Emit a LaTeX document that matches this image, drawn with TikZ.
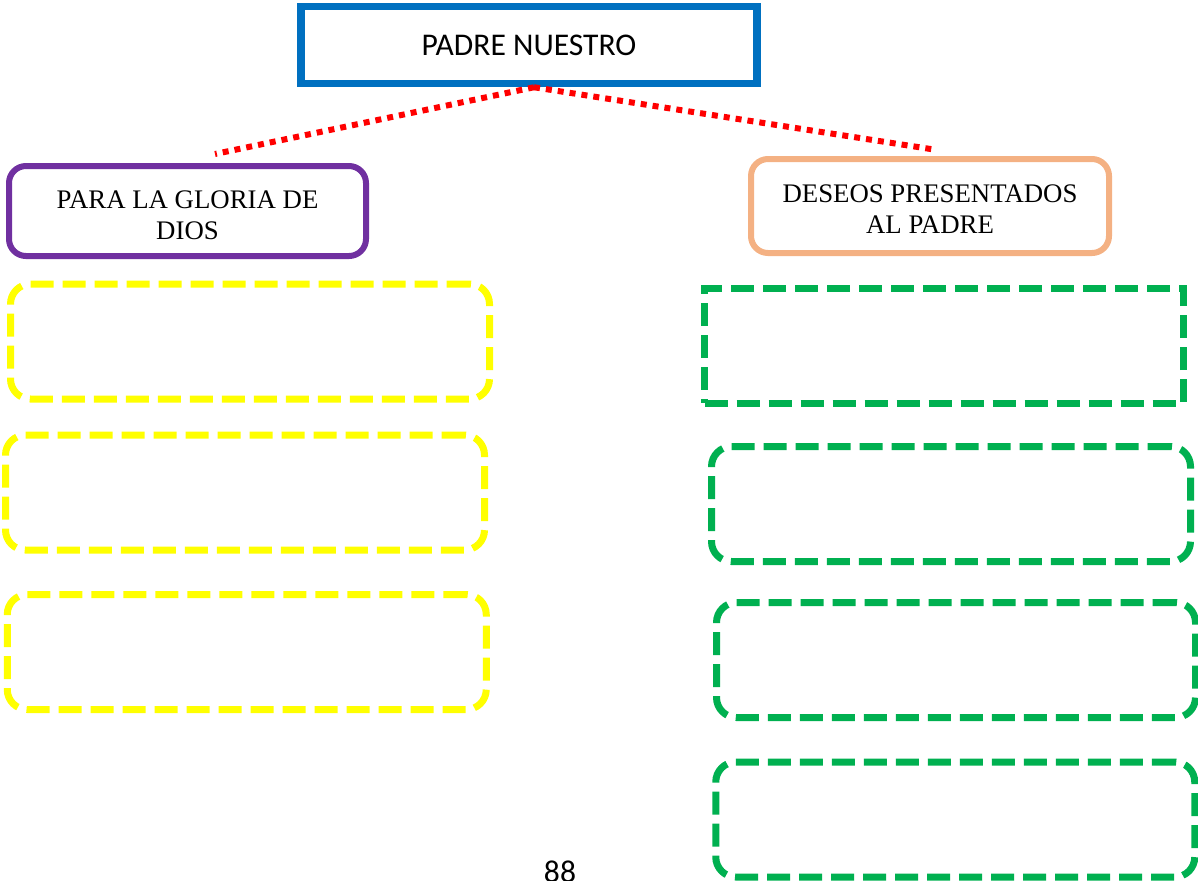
\documentclass[tikz,border=0pt]{standalone}
\usepackage{fontspec}
\setmainfont{Liberation Serif}
\newfontfamily\calibri{Carlito}

\definecolor{azul}{HTML}{0070C0}
\definecolor{morado}{HTML}{7030A0}
\definecolor{naranja}{HTML}{F4B183}
\definecolor{amarillo}{HTML}{FFFF00}
\definecolor{verde}{HTML}{00B050}

\begin{document}
\begin{tikzpicture}[x=0.5pt,y=-0.5pt]

\tikzset{
    caja/.style={draw=#1,line width=3.5pt,rectangle,rounded corners=10pt,
        dash pattern=on 11.5pt off 4.5pt,minimum width=239.5pt,minimum height=57.5pt,inner sep=0pt},
    tema/.style={draw=#1,line width=3pt,rectangle,rounded corners=8.5pt,inner sep=0pt,
        align=center,font=\fontsize{13.4}{15.3}\selectfont},
    punteada/.style={draw=red,line width=3pt,dash pattern=on 3pt off 3pt}}

\useasboundingbox (0,0) rectangle (1198,880);

% titulo
\node[draw=azul, line width=3.75pt, minimum width=228pt, minimum height=38.5pt,
    inner sep=0pt, font=\calibri\fontsize{15.8}{19}\selectfont] (PN) at (529,45) {PADRE NUESTRO};

% las dos partes
\node[tema=morado, minimum width=178.5pt, minimum height=45pt] (PG) at (187.5,211)
    {\raisebox{-3.5pt}[\height][\depth]{\begin{tabular}{@{}c@{}}PARA LA GLORIA DE\\DIOS\end{tabular}}};
\node[tema=naranja, minimum width=179pt, minimum height=47pt] (DP) at (930,206)
    {\raisebox{-3pt}[\height][\depth]{\begin{tabular}{@{}c@{}}DESEOS PRESENTADOS\\AL PADRE\end{tabular}}};

\draw[punteada] ([xshift=2.5pt]PN.south) -- ([xshift=13.75pt,yshift=4.5pt]PG.north);
\draw[punteada] ([xshift=2.5pt]PN.south) -- ([xshift=3.5pt,yshift=3pt]DP.north);

% cajas vacias, izquierda
\node[caja=amarillo] (Y1) at (250,341.5) {};
\node[caja=amarillo] (Y2) at (245,492.5) {};
\node[caja=amarillo] (Y3) at (246.75,652) {};

% cajas vacias, derecha
\node[caja=verde, rounded corners=0pt] (G1) at (944,345.5) {};
\node[caja=verde] (G2) at (951,504) {};
\node[caja=verde] (G3) at (956,660) {};
\node[caja=verde] (G4) at (955.25,819.5) {};

\node[anchor=base, font=\calibri\fontsize{15.8}{19}\selectfont] (pag) at (560,882) {88};

\end{tikzpicture}
\end{document}
